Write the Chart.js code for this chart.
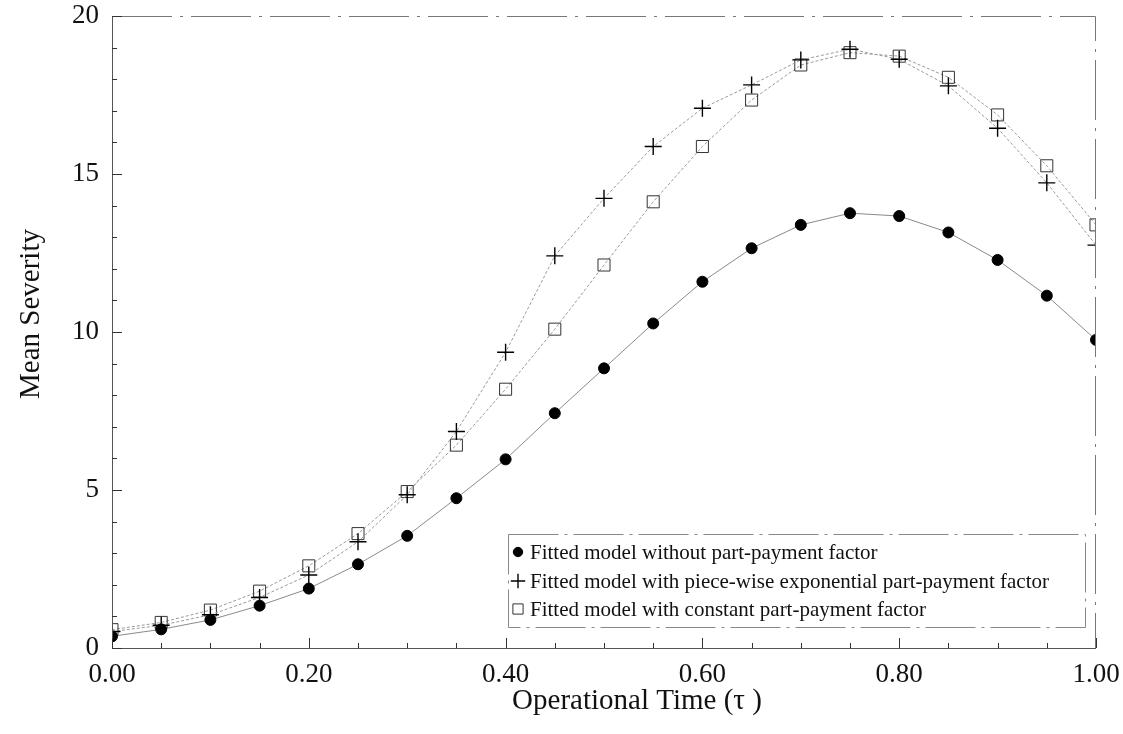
<!DOCTYPE html>
<html>
<head>
<meta charset="utf-8">
<script src="https://cdn.jsdelivr.net/npm/chart.js@4/dist/chart.umd.min.js"></script>
<style>
  html, body { margin: 0; padding: 0; background: #fff; }
  #wrap { width: 1123px; height: 734px; }
</style>
</head>
<body>
<div id="wrap"><canvas id="severidad"></canvas></div>
<script>
// tiempo operacional (eje x)
const tau = [0.00, 0.05, 0.10, 0.15, 0.20, 0.25, 0.30, 0.35, 0.40, 0.45, 0.50,
             0.55, 0.60, 0.65, 0.70, 0.75, 0.80, 0.85, 0.90, 0.95, 1.00];

const sinFactor = [0.37, 0.59, 0.89, 1.34, 1.88, 2.65, 3.55, 4.74, 5.97, 7.43, 8.85,
                   10.27, 11.59, 12.65, 13.39, 13.76, 13.67, 13.15, 12.28, 11.15, 9.75];
const exponencial = [0.52, 0.72, 1.05, 1.60, 2.31, 3.36, 4.85, 6.85, 9.36, 12.41, 14.23,
                     15.87, 17.08, 17.82, 18.61, 18.95, 18.63, 17.79, 16.45, 14.72, 12.75];
const constante = [0.58, 0.81, 1.20, 1.80, 2.60, 3.62, 4.95, 6.42, 8.19, 10.09, 12.12,
                   14.12, 15.87, 17.34, 18.45, 18.84, 18.73, 18.06, 16.87, 15.26, 13.39];

const etiquetas = [
  "Fitted model without part-payment factor",
  "Fitted model with piece-wise exponential part-payment factor",
  "Fitted model with constant part-payment factor",
];
const tituloX = "Operational Time (\u03c4 )";
const tituloY = "Mean Severity";

const FUENTE = "'Liberation Serif', 'Times New Roman', serif";

function puntos(valores) {
  return tau.map((t, i) => ({ x: t, y: valores[i] }));
}

// marco, marcas hacia adentro, títulos y leyenda
const decoracion = {
  id: "decoracion",
  afterDraw(chart) {
    const { ctx, chartArea: a, scales } = chart;
    const xs = scales.x, ys = scales.y;
    ctx.save();

    // marco
    ctx.lineWidth = 1;
    ctx.strokeStyle = "#555";
    ctx.beginPath();
    ctx.moveTo(a.left + 0.5, a.top);
    ctx.lineTo(a.left + 0.5, a.bottom + 0.5);
    ctx.lineTo(a.right, a.bottom + 0.5);
    ctx.stroke();
    ctx.strokeStyle = "#777";
    ctx.setLineDash([60, 8, 3, 8]);
    ctx.beginPath();
    ctx.moveTo(a.left, a.top + 0.5);
    ctx.lineTo(a.right - 0.5, a.top + 0.5);
    ctx.lineTo(a.right - 0.5, a.bottom);
    ctx.stroke();
    ctx.setLineDash([]);

    // marcas
    ctx.strokeStyle = "#333";
    for (let i = 0; i <= 20; i++) {
      const px = Math.round(xs.getPixelForValue(i * 0.05)) + 0.5;
      const largo = i % 4 === 0 ? 10 : 5;
      ctx.beginPath();
      ctx.moveTo(px, a.bottom);
      ctx.lineTo(px, a.bottom - largo);
      ctx.stroke();
      const py = Math.round(ys.getPixelForValue(i)) + 0.5;
      const largoY = i % 5 === 0 ? 10 : 5;
      ctx.beginPath();
      ctx.moveTo(a.left, py);
      ctx.lineTo(a.left + largoY, py);
      ctx.stroke();
    }

    // títulos de ejes
    ctx.fillStyle = "#111";
    ctx.font = "29px " + FUENTE;
    ctx.textAlign = "center";
    ctx.textBaseline = "middle";
    ctx.fillText(tituloX, 637, 701);
    ctx.save();
    ctx.translate(31, 314);
    ctx.rotate(-Math.PI / 2);
    ctx.fillText(tituloY, 0, 0);
    ctx.restore();

    // leyenda
    const caja = { left: 508, top: 534, right: 1085, bottom: 627 };
    ctx.strokeStyle = "#888";
    ctx.setLineDash([50, 6, 3, 6]);
    ctx.strokeRect(caja.left + 0.5, caja.top + 0.5, caja.right - caja.left, caja.bottom - caja.top);
    ctx.setLineDash([]);
    const filas = [552, 581, 609];
    ctx.font = "21px " + FUENTE;
    ctx.textAlign = "left";
    chart.data.datasets.forEach((ds, i) => {
      ctx.fillStyle = ds.pointBackgroundColor;
      ctx.strokeStyle = ds.pointBorderColor;
      ctx.lineWidth = ds.pointBorderWidth;
      Chart.helpers.drawPoint(ctx, {
        pointStyle: ds.pointStyle,
        radius: ds.pointRadius * 0.85,
        borderWidth: ds.pointBorderWidth,
        rotation: 0,
      }, 518, filas[i]);
      ctx.fillStyle = "#111";
      ctx.fillText(ds.label, 530, filas[i] + 1);
    });

    ctx.restore();
  },
};

const ctx = document.getElementById("severidad").getContext("2d");

new Chart(ctx, {
  type: "line",
  data: {
    datasets: [
      {
        label: etiquetas[0],
        data: puntos(sinFactor),
        borderColor: "#8a8a8a",
        borderWidth: 1,
        pointStyle: "circle",
        pointRadius: 5.5,
        pointBackgroundColor: "#000",
        pointBorderColor: "#000",
        pointBorderWidth: 1,
        tension: 0,
      },
      {
        label: etiquetas[1],
        data: puntos(exponencial),
        borderColor: "#9a9a9a",
        borderWidth: 1,
        borderDash: [3, 2],
        pointStyle: "cross",
        pointRadius: 8.5,
        pointBackgroundColor: "rgba(0,0,0,0)",
        pointBorderColor: "#000",
        pointBorderWidth: 1.4,
        tension: 0,
      },
      {
        label: etiquetas[2],
        data: puntos(constante),
        borderColor: "#9a9a9a",
        borderWidth: 1,
        borderDash: [3, 2],
        pointStyle: "rect",
        pointRadius: 8.5,
        pointBackgroundColor: "rgba(0,0,0,0)",
        pointBorderColor: "#333",
        pointBorderWidth: 1,
        tension: 0,
      },
    ],
  },
  options: {
    responsive: true,
    maintainAspectRatio: false,
    animation: false,
    layout: {
      padding: { top: 16, right: 27, left: 0, bottom: 0 },
    },
    plugins: {
      legend: { display: false },
      tooltip: { enabled: false },
    },
    scales: {
      x: {
        type: "linear",
        min: 0,
        max: 1,
        afterFit(scale) {
          scale.height = 86;
          scale.paddingLeft = 0;
          scale.paddingRight = 0;
        },
        grid: { display: false, drawTicks: false },
        border: { display: false },
        ticks: {
          stepSize: 0.05,
          autoSkip: false,
          maxRotation: 0,
          padding: 11,
          color: "#111",
          font: { size: 27, family: FUENTE },
          callback: (v) => (Math.round(v * 100) % 20 === 0 ? v.toFixed(2) : ""),
        },
      },
      y: {
        min: 0,
        max: 20,
        afterFit(scale) {
          scale.width = 112;
          scale.paddingTop = 0;
          scale.paddingBottom = 0;
        },
        grid: { display: false, drawTicks: false },
        border: { display: false },
        ticks: {
          stepSize: 1,
          autoSkip: false,
          padding: 13,
          color: "#111",
          font: { size: 27, family: FUENTE },
          callback: (v) => (v % 5 === 0 ? v : ""),
        },
      },
    },
  },
  plugins: [decoracion],
});
</script>
</body>
</html>
